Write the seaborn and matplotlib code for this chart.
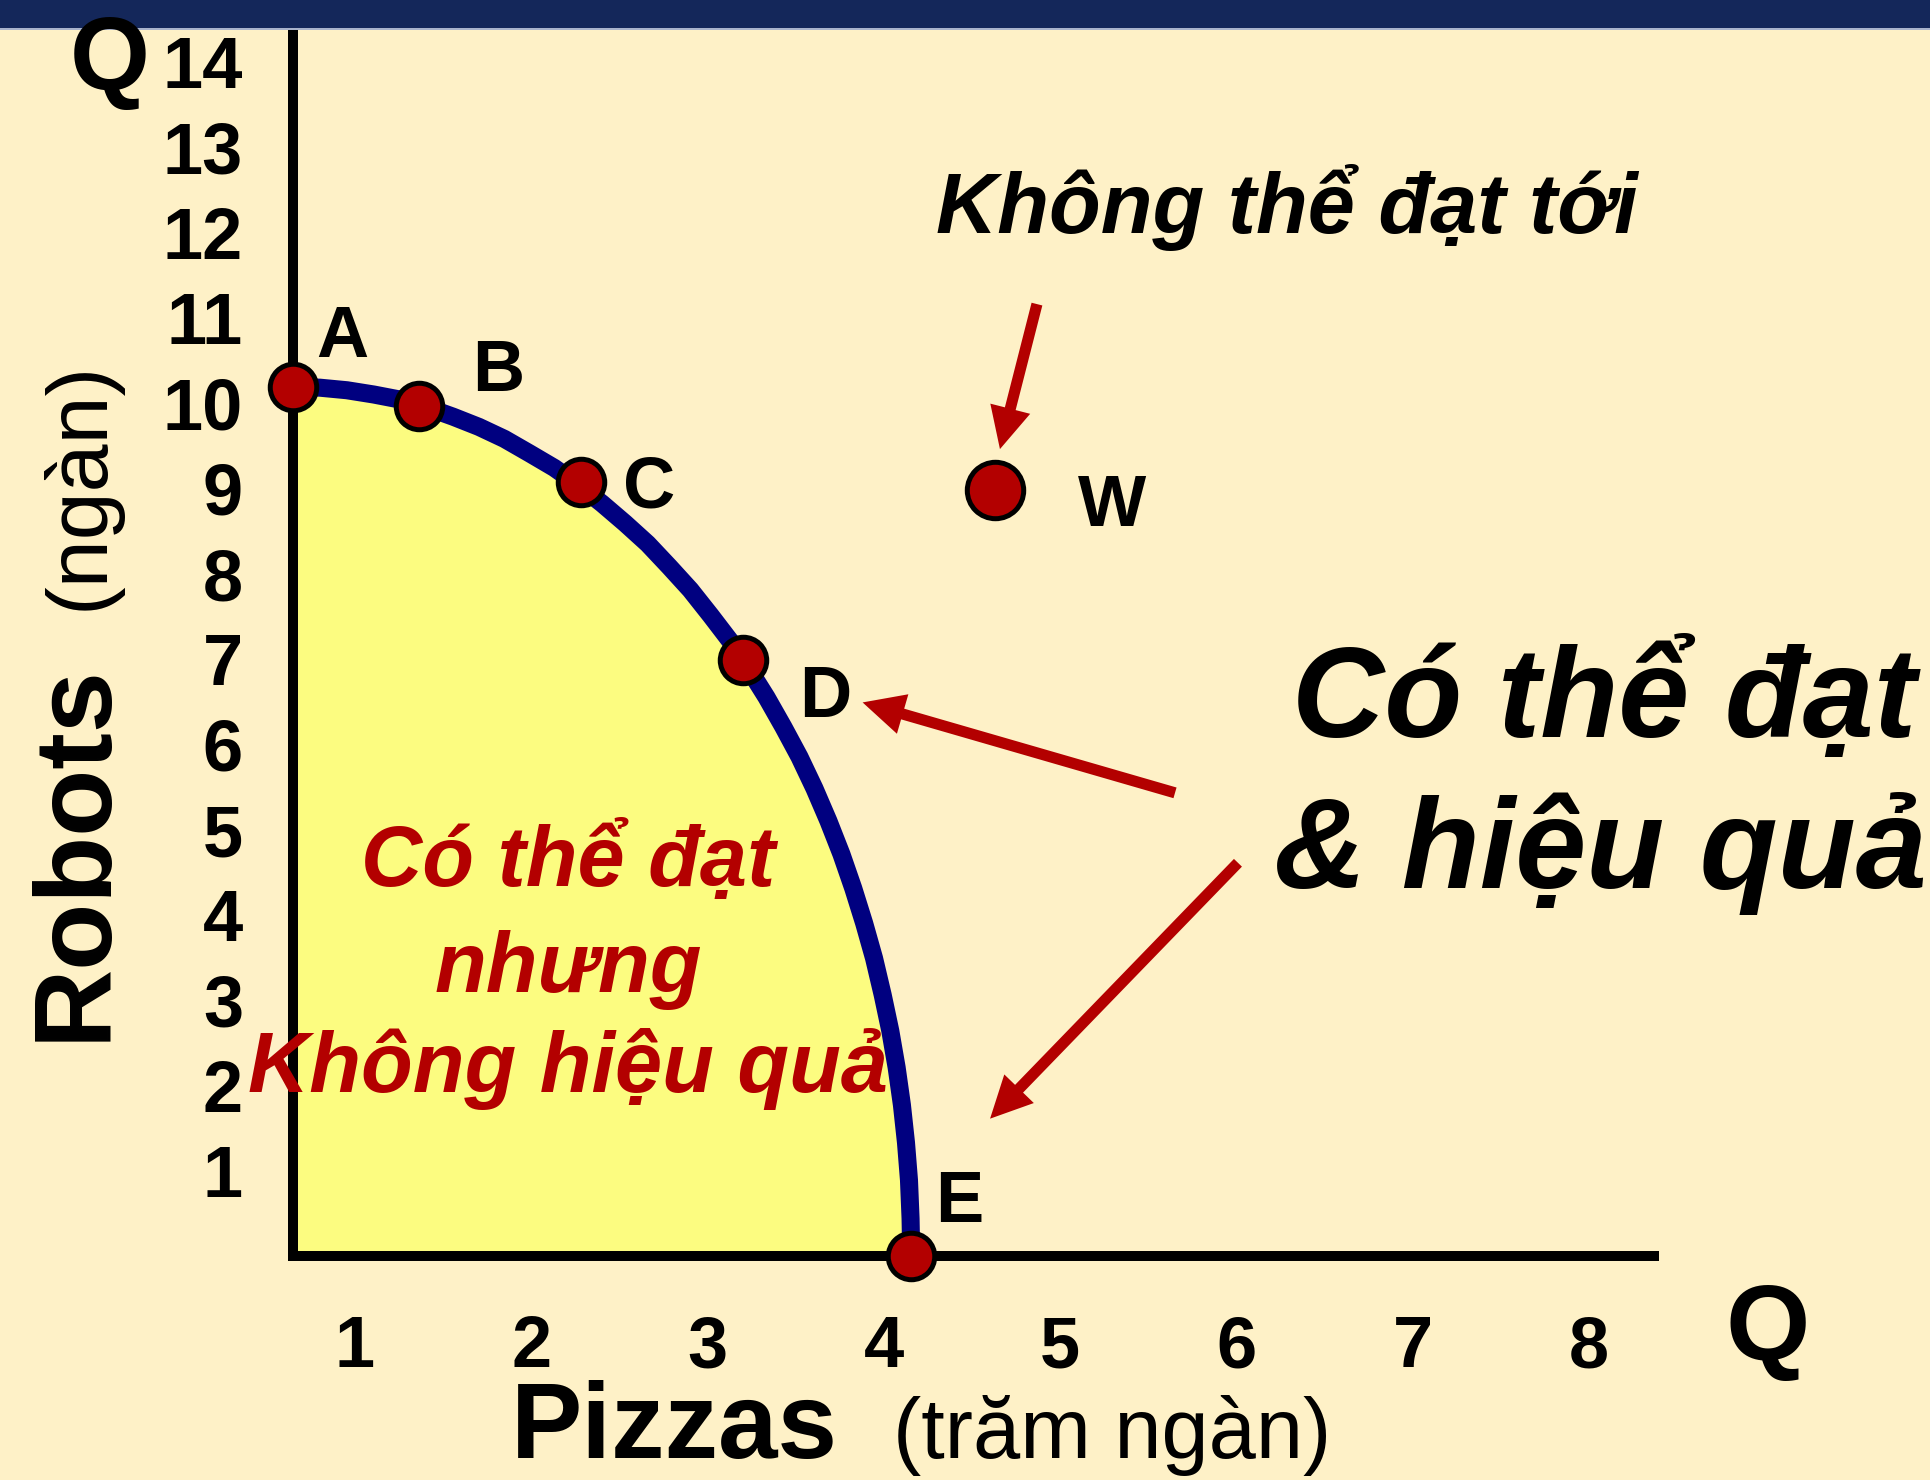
import matplotlib
matplotlib.use("Agg")
import matplotlib.pyplot as plt
from matplotlib.patches import Rectangle, ArrowStyle
import pandas as pd
import seaborn as sns

# ---- data: production possibilities (pizzas in hundred thousands, robots in thousands)
point_labels = ["A", "B", "C", "D", "E"]
point_pizzas = [0.648, 1.36, 2.28, 3.20, 4.155]
point_robots = [10.19, 9.96, 9.07, 6.99, 0.0]

frontier_pizzas = [0.648, 0.801, 0.954, 1.106, 1.257, 1.407, 1.556, 1.703, 1.847, 1.990,
                   2.130, 2.267, 2.402, 2.532, 2.660, 2.783, 2.902, 3.017, 3.128, 3.234,
                   3.334, 3.430, 3.521, 3.606, 3.685, 3.759, 3.826, 3.888, 3.944, 3.993,
                   4.036, 4.072, 4.102, 4.125, 4.142, 4.151, 4.155]
frontier_robots = [10.19, 10.18, 10.15, 10.10, 10.04, 9.95, 9.84, 9.72, 9.58, 9.41,
                   9.24, 9.04, 8.82, 8.59, 8.35, 8.08, 7.81, 7.51, 7.21, 6.88,
                   6.55, 6.20, 5.85, 5.48, 5.10, 4.71, 4.31, 3.90, 3.49, 3.06,
                   2.64, 2.21, 1.77, 1.33, 0.89, 0.44, 0.0]

w_label = ["W"]
w_pizzas = [4.63]
w_robots = [8.98]

x_ticks = [1, 2, 3, 4, 5, 6, 7, 8]
y_ticks = [1, 2, 3, 4, 5, 6, 7, 8, 9, 10, 11, 12, 13, 14]

# annotation arrows: (tail, tip) in data units
arrow_tail_x = [4.868, 5.651, 6.008]
arrow_tail_y = [11.16, 5.43, 4.61]
arrow_tip_x = [4.658, 3.879, 4.602]
arrow_tip_y = [9.46, 6.49, 1.61]

# ---- style
BG = "#FEF1C7"
NAVY_BAND = "#14275A"
FILL = "#FCFC80"
CURVE = "#000080"
DOT = "#B30000"
RED = "#B30000"

sns.set_style("white")
plt.rcParams["font.family"] = ["Liberation Sans", "DejaVu Sans"]
plt.rcParams["axes.unicode_minus"] = False
for key in ("text.color", "axes.labelcolor", "xtick.color", "ytick.color"):
    plt.rcParams[key] = "black"

W_PX, H_PX, DPI = 1931, 1480, 100
fig = plt.figure(figsize=(W_PX / DPI, H_PX / DPI), dpi=DPI, facecolor=BG)


def fx(x):
    return x / W_PX


def fy(y):
    return 1 - y / H_PX


left, right, top, bottom = 293, 1654, 32, 1256
ax = fig.add_axes([fx(left), fy(bottom), fx(right - left), (bottom - top) / H_PX])
ax.set_facecolor("none")

frontier = pd.DataFrame({"pizzas": frontier_pizzas, "robots": frontier_robots})
points = pd.DataFrame({"label": point_labels, "pizzas": point_pizzas, "robots": point_robots})
outside = pd.DataFrame({"label": w_label, "pizzas": w_pizzas, "robots": w_robots})

# attainable region under the frontier
ax.fill_between(frontier["pizzas"], 0, frontier["robots"], color=FILL, lw=0, zorder=1)

# the frontier itself
sns.lineplot(data=frontier, x="pizzas", y="robots", sort=False, estimator=None,
             color=CURVE, lw=13, ax=ax, zorder=2, solid_capstyle="butt",
             solid_joinstyle="round")

# marked combinations
sns.scatterplot(data=points, x="pizzas", y="robots", s=1120, color=DOT,
                edgecolor="black", linewidth=3.6, ax=ax, zorder=6, clip_on=False)
sns.scatterplot(data=outside, x="pizzas", y="robots", s=1650, color=DOT,
                edgecolor="black", linewidth=3.6, ax=ax, zorder=6, clip_on=False)

label_offsets = {"A": (49, 30), "B": (80, 15), "C": (68, -25), "D": (82, -57),
                 "E": (48, 34), "W": (117, -36)}
for lab, xv, yv in zip(point_labels + w_label, point_pizzas + w_pizzas, point_robots + w_robots):
    ax.annotate(lab, (xv, yv), xytext=label_offsets[lab], textcoords="offset pixels",
                ha="center", va="baseline", fontsize=52, fontweight="bold",
                color="black", zorder=7, annotation_clip=False)

# pointer arrows
for tx, ty, hx, hy in zip(arrow_tail_x, arrow_tail_y, arrow_tip_x, arrow_tip_y):
    ax.annotate("", xy=(hx, hy), xytext=(tx, ty), xycoords="data", textcoords="data",
                arrowprops=dict(arrowstyle=ArrowStyle.Simple(head_length=0.75, head_width=0.74,
                                                            tail_width=0.2),
                                mutation_scale=40, fc=RED, ec="none", lw=0,
                                shrinkA=0, shrinkB=0),
                zorder=5, annotation_clip=False)

# axes
ax.set_xlim(0.648, 8.368)
ax.set_ylim(0, 14.35)
for side in ("top", "right"):
    ax.spines[side].set_visible(False)
for side in ("left", "bottom"):
    ax.spines[side].set_linewidth(7.2)
    ax.spines[side].set_color("black")
    ax.spines[side].set_capstyle("projecting")
    ax.spines[side].set_zorder(3)
ax.set_xticks(x_ticks)
ax.set_yticks(y_ticks)
ax.set_xticklabels([str(v) for v in x_ticks])
ax.set_yticklabels([str(v) for v in y_ticks])
ax.tick_params(axis="x", length=0, pad=42, labelsize=52, labelcolor="black")
ax.tick_params(axis="y", length=0, pad=36, labelsize=52, labelcolor="black")
for t in ax.get_xticklabels() + ax.get_yticklabels():
    t.set_fontweight("bold")
ax.set_xlabel("")
ax.set_ylabel("")

# axis titles
fig.text(fx(105), fy(1041), "Robots", rotation=90, rotation_mode="anchor",
         ha="left", va="baseline", fontsize=79, fontweight="bold")
fig.text(fx(103), fy(610), "(ngàn)", rotation=90, rotation_mode="anchor",
         ha="left", va="baseline", fontsize=62)
fig.text(fx(511), fy(1458), "Pizzas", ha="left", va="baseline", fontsize=77, fontweight="bold")
fig.text(fx(893), fy(1458), "(trăm ngàn)", ha="left", va="baseline", fontsize=61)
fig.text(fx(110), fy(90), "Q", ha="center", va="baseline", fontsize=74, fontweight="bold",
         zorder=25)
fig.text(fx(1768), fy(1360), "Q", ha="center", va="baseline", fontsize=78, fontweight="bold")

# region notes
fig.text(fx(1287), fy(233), "Không thể đạt tới", ha="center", va="baseline",
         fontsize=61, fontweight="bold", fontstyle="italic")
fig.text(fx(1604), fy(737), "Có thể đạt", ha="center", va="baseline",
         fontsize=92, fontweight="bold", fontstyle="italic")
fig.text(fx(1600), fy(888), "& hiệu quả", ha="center", va="baseline",
         fontsize=92, fontweight="bold", fontstyle="italic")
for txt, base in zip(["Có thể đạt", "nhưng", "Không hiệu quả"], [886, 992, 1092]):
    fig.text(fx(568), fy(base), txt, ha="center", va="baseline", fontsize=61,
             fontweight="bold", fontstyle="italic", color=RED, zorder=8)

# slide header band
fig.patches.append(Rectangle((0, fy(28)), 1, 28 / H_PX, transform=fig.transFigure,
                             facecolor=NAVY_BAND, edgecolor="none", zorder=20))
fig.patches.append(Rectangle((0, fy(30)), 1, 2 / H_PX, transform=fig.transFigure,
                             facecolor="#A9B3CC", edgecolor="none", zorder=20))

fig.savefig("out.png", dpi=DPI, facecolor=BG)
